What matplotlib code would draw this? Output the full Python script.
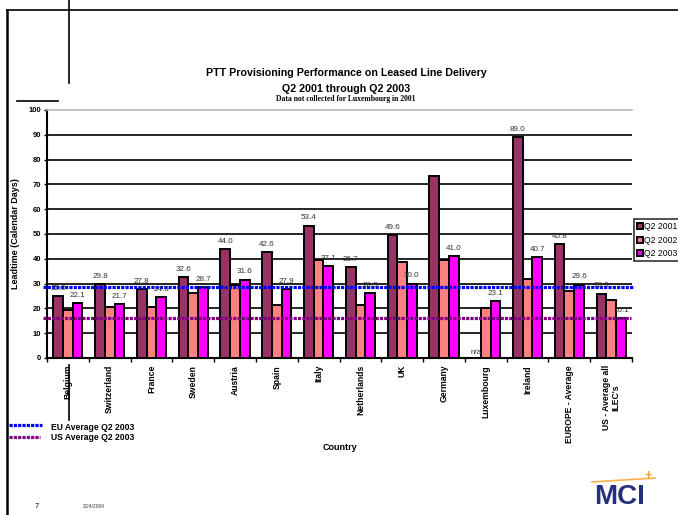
import matplotlib
matplotlib.use("Agg")
import matplotlib.pyplot as plt
from matplotlib.lines import Line2D
import numpy as np

plt.rcParams['font.family'] = ['Liberation Sans', 'DejaVu Sans']

# data
paises = ["Belgium", "Switzerland", "France", "Sweden", "Austria", "Spain", "Italy",
          "Netherlands", "UK", "Germany", "Luxembourg", "Ireland",
          "EUROPE - Average", "US - Average all\nILEC's"]
q2_2001 = [25.0, 29.8, 27.8, 32.6, 44.0, 42.6, 53.4, 36.7, 49.6, 73.2, 0.0, 89.0, 45.8, 26.0]
q2_2002 = [19.4, 20.7, 20.6, 26.3, 29.6, 21.4, 39.5, 21.5, 38.6, 39.5, 20.0, 32.0, 27.2, 23.5]
q2_2003 = [22.1, 21.7, 24.6, 28.7, 31.6, 27.9, 37.1, 26.3, 30.0, 41.0, 23.1, 40.7, 29.6, 16.1]
rot_2001 = ["25.0", "29.8", "27.8", "32.6", "44.0", "42.6", "53.4", "36.7", "49.6", None, "n/a", "89.0", "45.8", "26.0"]
rot_2003 = ["22.1", "21.7", "24.6", "28.7", "31.6", "27.9", "37.1", "26.3", "30.0", "41.0", "23.1", "40.7", "29.6", "16.1"]
series = ["Q2 2001", "Q2 2002", "Q2 2003"]
media_eu = 28.5
media_us = 16.3

W, H = 678, 515
fig = plt.figure(figsize=(W / 100, H / 100), dpi=100)

def fx(px):
    return px / W

def fy(py):
    return 1 - py / H

# slide frame
fig.add_artist(Line2D([fx(7), fx(7)], [fy(10), 0], color='black', lw=1.8))
fig.add_artist(Line2D([fx(7), 1], [fy(10), fy(10)], color='black', lw=1.2))
fig.add_artist(Line2D([fx(69), fx(69)], [1, fy(83)], color='black', lw=1.2))
fig.add_artist(Line2D([fx(17), fx(58)], [fy(101), fy(101)], color='black', lw=1.2))
fig.add_artist(Line2D([fx(69), fx(69)], [fy(365), fy(420)], color='black', lw=1.2))

ax = fig.add_axes([fx(47), fy(358), fx(632) - fx(47), fy(110) - fy(358)])

x = np.arange(len(paises))
w = 0.232
cores = ['#993366', '#FF8080', '#FF00FF']
barras = []
for i, (vals, cor) in enumerate(zip([q2_2001, q2_2002, q2_2003], cores)):
    b = ax.bar(x + (i - 1) * w, vals, w, color=cor, edgecolor='black', linewidth=1.4,
               label=series[i], zorder=3)
    barras.append(b)

# linhas de grade
for g in range(10, 100, 10):
    ax.axhline(g, color='black', lw=1.2, zorder=1)

# medias
ax.axhline(media_eu, xmin=-0.007, xmax=1.003, color='#0000FF', lw=2.3,
           linestyle=(0, (1.0, 0.35)), zorder=5, clip_on=False)
ax.axhline(media_us, xmin=-0.007, xmax=0.998, color='#800080', lw=2.3,
           linestyle=(0, (1.0, 0.35)), zorder=5, clip_on=False)

# rotulos
for i in range(len(paises)):
    if rot_2001[i] is not None:
        if rot_2001[i] == "n/a":
            ax.text(x[i] - w, 1.0, "n/a", ha='center', va='bottom', fontsize=5.8, color='#333333', zorder=6)
        else:
            ax.annotate(rot_2001[i], (x[i] - w, q2_2001[i]), xytext=(0, 3), textcoords='offset points',
                        ha='center', va='bottom', fontsize=5.8, color='#333333', zorder=6)
    ax.annotate(rot_2003[i], (x[i] + w, q2_2003[i]), xytext=(0, 3), textcoords='offset points',
                ha='center', va='bottom', fontsize=5.8, color='#333333', zorder=6)

ax.set_xlim(-0.5, len(paises) - 0.5)
ax.set_ylim(0, 100)
ax.set_yticks(range(0, 101, 10))
ax.tick_params(axis='y', labelsize=5.5, length=2, width=1, pad=2)
for t in ax.get_yticklabels():
    t.set_fontweight('bold')
ax.set_xticks(x)
ax.set_xticklabels(paises, rotation=90, fontsize=6.2, fontweight='bold', va='top', linespacing=1.0)
ax.tick_params(axis='x', length=0, pad=5)
ax.set_xticks(np.arange(-0.5, len(paises), 1), minor=True)
ax.tick_params(axis='x', which='minor', length=3, width=1, direction='out')

ax.spines['left'].set_linewidth(1.5)
ax.spines['bottom'].set_linewidth(1.5)
ax.spines['top'].set_color('#bbbbbb')
ax.spines['top'].set_linewidth(1.2)
ax.spines['right'].set_visible(False)

ax.set_ylabel('Leadtime (Calendar Days)', fontsize=6.5, fontweight='bold', labelpad=6)
fig.text(fx(340), fy(448), 'Country', ha='center', va='center', fontsize=6.5, fontweight='bold')

# titulos
fig.text(fx(346), fy(73), 'PTT Provisioning Performance on Leased Line Delivery',
         ha='center', va='center', fontsize=7.7, fontweight='bold')
fig.text(fx(346), fy(89), 'Q2 2001 through Q2 2003', ha='center', va='center', fontsize=7.7, fontweight='bold')
fig.text(fx(346), fy(99), 'Data not collected for Luxembourg in 2001', ha='center', va='center',
         fontsize=5.5, fontweight='bold', family='Liberation Serif')

# legenda das series
leg = fig.legend(handles=barras, labels=series, loc='upper left',
                 bbox_to_anchor=(fx(634), fy(219)),
                 fontsize=6.2, frameon=True, fancybox=False, handlelength=0.7, handleheight=0.7,
                 handletextpad=0.15, labelspacing=0.55, borderpad=0.35, borderaxespad=0)
leg.get_frame().set_edgecolor('black')
leg.get_frame().set_linewidth(1.2)

# legenda das medias
fig.add_artist(Line2D([fx(9), fx(42)], [fy(425), fy(425)], color='#0000FF', lw=2.3, linestyle=(0, (1.0, 0.35))))
fig.add_artist(Line2D([fx(9), fx(40)], [fy(437), fy(437)], color='#800080', lw=2.3, linestyle=(0, (1.0, 0.35))))
fig.text(fx(51), fy(427), 'EU Average Q2 2003', ha='left', va='center', fontsize=6.2, fontweight='bold')
fig.text(fx(51), fy(438), 'US Average Q2 2003', ha='left', va='center', fontsize=6.2, fontweight='bold')

# rodape
fig.text(fx(37), fy(506), '7', ha='center', va='center', fontsize=5.5)
fig.text(fx(83), fy(507), '2/24/2004', ha='left', va='center', fontsize=3.5, color='#333333')
fig.add_artist(Line2D([fx(592), fx(655)], [fy(482), fy(478)], color='#F5B04A', lw=1.2))
fig.text(fx(648), fy(476), '+', ha='center', va='center', fontsize=9, color='#F5A030', fontweight='bold')
fig.text(fx(620), fy(497), 'MCI', ha='center', va='center', fontsize=20, fontweight='bold', color='#23307A')

fig.savefig('out.png', dpi=100)
